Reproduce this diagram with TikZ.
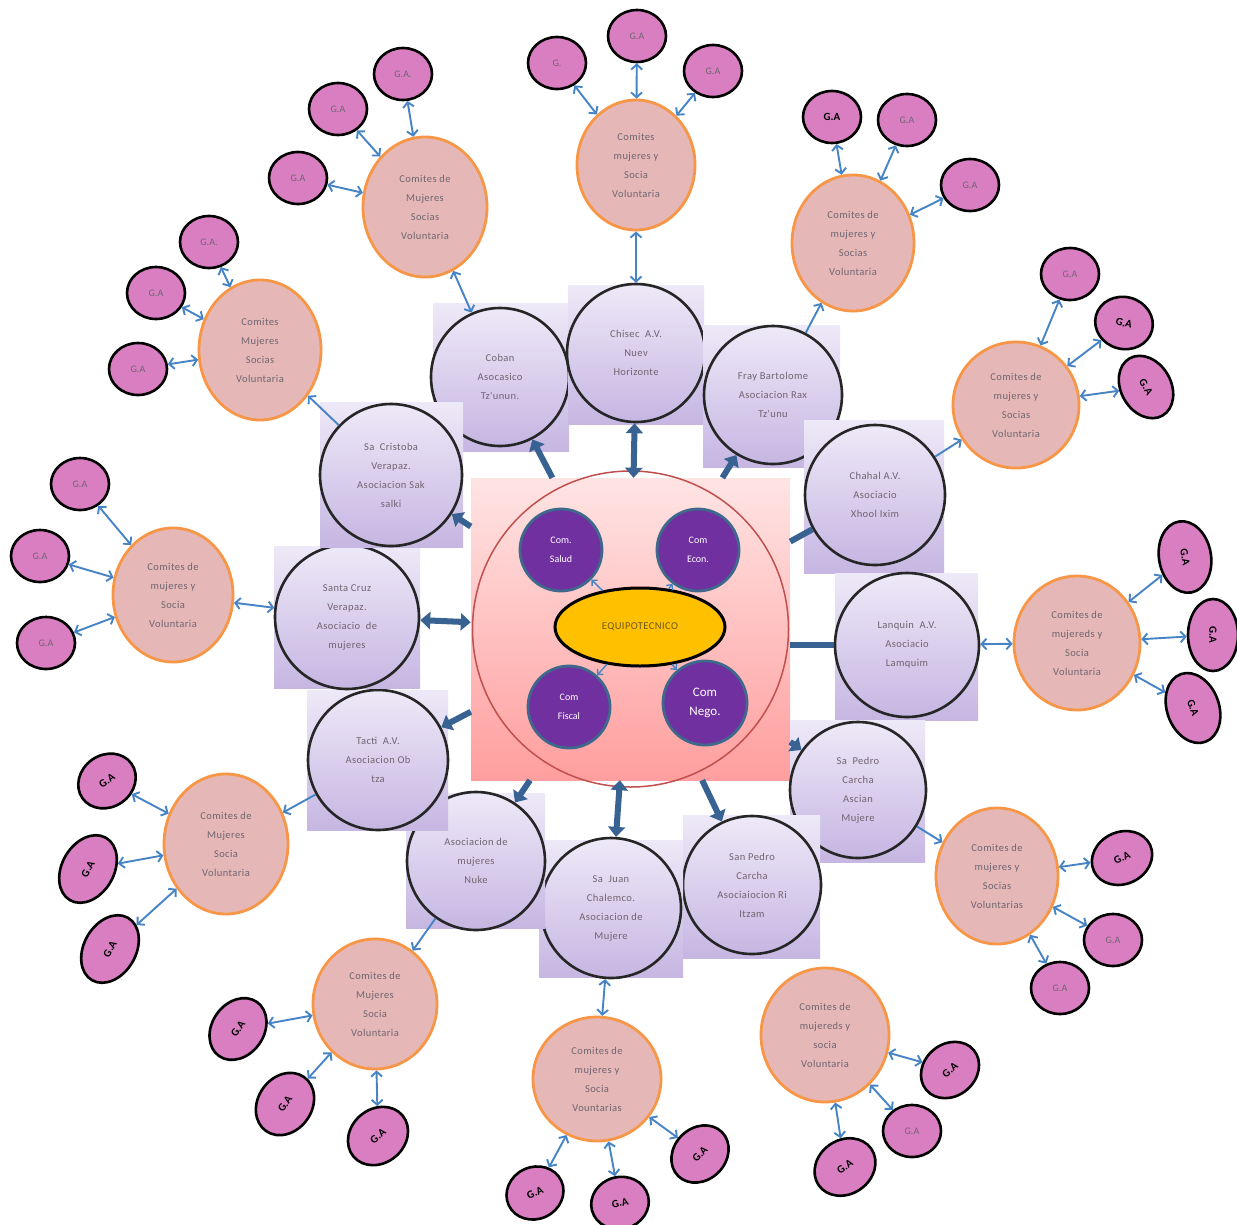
\documentclass[tikz,border=0pt]{standalone}
\usepackage{fontspec}
\setmainfont{Carlito}
\newfontfamily\lsfont[LetterSpace=4]{Carlito}
\usetikzlibrary{shapes.geometric,arrows.meta}
\definecolor{lavtop}{RGB}{238,233,248}
\definecolor{lavbot}{RGB}{198,182,226}
\definecolor{comfill}{RGB}{229,184,183}
\definecolor{comdraw}{RGB}{247,150,70}
\definecolor{gafill}{RGB}{218,126,194}
\definecolor{tblue}{RGB}{70,132,198}
\definecolor{tkblue}{RGB}{56,98,146}
\definecolor{purp}{RGB}{112,48,160}
\definecolor{purpdraw}{RGB}{62,104,140}
\definecolor{eqyel}{RGB}{255,192,0}
\definecolor{pinktop}{RGB}{255,228,228}
\definecolor{pinkbot}{RGB}{255,158,158}
\definecolor{redline}{RGB}{192,80,77}
\definecolor{txtg}{RGB}{112,100,112}
\begin{document}
\begin{tikzpicture}[x=1pt,y=-1pt,
 assoc/.style={circle,draw=black!85,line width=2.6pt,minimum size=#1,inner sep=0pt,align=center,text=txtg,top color=lavtop,bottom color=lavbot,font=\lsfont\fontsize{10.5}{19}\selectfont},
 lavsq/.style={top color=lavtop,bottom color=lavbot,draw=none},
 comm/.style={ellipse,draw=comdraw,fill=comfill,line width=2.8pt,inner sep=0pt,align=center,text=txtg,font=\lsfont\fontsize{10.5}{19}\selectfont},
 ga/.style={ellipse,draw=black,fill=gafill,line width=2.6pt,inner sep=0pt,minimum width=58pt,minimum height=52pt,text=txtg,font=\fontsize{10}{11}\selectfont},
 gab/.style={ga,font=\bfseries\fontsize{11}{12}\selectfont,text=black},
 tarr/.style={draw=tblue,line width=1.9pt,{Straight Barb[length=5pt,width=11pt]}-{Straight Barb[length=5pt,width=11pt]}},
 tone/.style={draw=tblue,line width=1.9pt,-{Straight Barb[length=5pt,width=11pt]}},
 barr/.style={draw=tkblue,line width=6pt,-{Triangle[length=10pt,width=17pt]}},
 bboth/.style={draw=tkblue,line width=6pt,{Triangle[length=10pt,width=17pt]}-{Triangle[length=10pt,width=17pt]}},
 bline/.style={draw=tkblue,line width=6pt},
 comc/.style={circle,draw=purpdraw,fill=purp,line width=2.8pt,minimum size=#1,inner sep=0pt,align=center,text=white,font=\fontsize{10}{19}\selectfont},
 smallarr/.style={draw=tblue,line width=1.4pt,-{Straight Barb[length=4pt,width=8pt]}}
]
\fill[white] (0,0) rectangle (1237,1224);
\useasboundingbox (0,0) rectangle (1237,1224);

% ---------- committees ----------
\node[comm,minimum width=124pt,minimum height=140pt] (cA) at (425,207) {Comites de\\Mujeres\\Socias\\Voluntaria};
\node[comm,minimum width=122pt,minimum height=140pt] (cB) at (260,350) {Comites\\Mujeres\\Socias\\Voluntaria};
\node[comm,minimum width=118pt,minimum height=130pt] (cC) at (636,165) {Comites\\mujeres y\\Socia\\Voluntaria};
\node[comm,minimum width=122pt,minimum height=136pt] (cD) at (853,243) {Comites de\\mujeres y\\Socias\\Voluntaria};
\node[comm,minimum width=126pt,minimum height=126pt] (cE) at (1016,405) {Comites de\\mujeres y\\Socias\\Voluntaria};
\node[comm,minimum width=126pt,minimum height=134pt] (cF) at (1077,643) {Comites de\\mujereds y\\Socia\\Voluntaria};
\node[comm,minimum width=122pt,minimum height=136pt] (cG) at (997,876) {Comites de\\mujeres y\\Socias\\Voluntarias};
\node[comm,minimum width=128pt,minimum height=134pt] (cH) at (825,1035) {Comites de\\mujereds y\\socia\\Voluntaria};
\node[comm,minimum width=128pt,minimum height=124pt] (cI) at (597,1079) {Comites de\\mujeres y\\Socia\\Vountarias};
\node[comm,minimum width=124pt,minimum height=130pt] (cJ) at (375,1004) {Comites de\\Mujeres\\Socia\\Voluntaria};
\node[comm,minimum width=124pt,minimum height=140pt] (cK) at (226,844) {Comites de\\Mujeres\\Socia\\Voluntaria};
\node[comm,minimum width=120pt,minimum height=134pt] (cL) at (173,595) {Comites de\\mujeres y\\Socia\\Voluntaria};

% ---------- G.A nodes ----------
\node[ga] (gaA1) at (403,74) {G.A.};
\node[ga] (gaA2) at (338,109) {G.A};
\node[ga] (gaA3) at (298,178) {G.A};
\node[ga] (gaB1) at (209,242) {G.A.};
\node[ga] (gaB2) at (156,293) {G.A};
\node[ga] (gaB3) at (138,369) {G.A};
\node[ga] (gaC1) at (557,63) {G.};
\node[ga] (gaC2) at (637,36) {G.A};
\node[ga] (gaC3) at (713,71) {G.A};
\node[gab] (gaD1) at (832,117) {G.A};
\node[ga] (gaD2) at (907,120) {G.A};
\node[ga] (gaD3) at (970,185) {G.A};
\node[ga] (gaE1) at (1070,274) {G.A};
\node[gab,rotate=-15] (gaE2) at (1124,323) {G.A};
\node[gab,rotate=-60,minimum width=66pt,minimum height=50pt] (gaE3) at (1146,387) {G.A};
\node[gab,rotate=-80,minimum width=72pt,minimum height=52pt] (gaF1) at (1185,557) {G.A};
\node[gab,rotate=-90,minimum width=72pt,minimum height=50pt] (gaF2) at (1213,635) {G.A};
\node[gab,rotate=-70,minimum width=72pt,minimum height=52pt] (gaF3) at (1193,708) {G.A};
\node[gab,rotate=25,minimum width=62pt,minimum height=52pt] (gaG1) at (1122,858) {G.A};
\node[ga] (gaG2) at (1113,940) {G.A};
\node[ga] (gaG3) at (1060,988) {G.A};
\node[gab,rotate=40,minimum width=62pt,minimum height=52pt] (gaH1) at (950,1070) {G.A};
\node[ga] (gaH2) at (912,1131) {G.A};
\node[gab,rotate=35,minimum width=64pt,minimum height=54pt] (gaH3) at (845,1167) {G.A};
\node[gab,rotate=45,minimum width=62pt,minimum height=52pt] (gaI1) at (700,1154) {G.A};
\node[gab,rotate=15] (gaI2) at (620,1203) {G.A};
\node[gab,rotate=25] (gaI3) at (535,1193) {G.A};
\node[gab,rotate=55,minimum width=66pt,minimum height=52pt] (gaJ1) at (238,1029) {G.A};
\node[gab,rotate=55,minimum width=66pt,minimum height=54pt] (gaJ2) at (285,1104) {G.A};
\node[gab,rotate=40,minimum width=64pt,minimum height=54pt] (gaJ3) at (378,1136) {G.A};
\node[gab,rotate=35,minimum width=60pt,minimum height=52pt] (gaK1) at (107,781) {G.A};
\node[gab,rotate=60,minimum width=72pt,minimum height=52pt] (gaK2) at (88,869) {G.A};
\node[gab,rotate=60,minimum width=72pt,minimum height=52pt] (gaK3) at (110,949) {G.A};
\node[ga] (gaL1) at (80,484) {G.A};
\node[ga] (gaL2) at (40,556) {G.A};
\node[ga] (gaL3) at (46,643) {G.A};

\foreach \g/\c in {gaA1/cA,gaA2/cA,gaA3/cA,gaB1/cB,gaB2/cB,gaB3/cB,gaC1/cC,gaC2/cC,gaC3/cC,
  gaD1/cD,gaD2/cD,gaD3/cD,gaE1/cE,gaE2/cE,gaE3/cE,gaF1/cF,gaF2/cF,gaF3/cF,
  gaG1/cG,gaG2/cG,gaG3/cG,gaH1/cH,gaH2/cH,gaH3/cH,gaI1/cI,gaI2/cI,gaI3/cI,
  gaJ1/cJ,gaJ2/cJ,gaJ3/cJ,gaK1/cK,gaK2/cK,gaK3/cK,gaL1/cL,gaL2/cL,gaL3/cL}
  \draw[tarr] (\g) -- (\c);

% ---------- centre ----------
\node[rectangle,top color=pinktop,bottom color=pinkbot,minimum width=319pt,minimum height=302pt,inner sep=0pt] (eq) at (630.5,629) {};
\node[circle,draw=redline,line width=1.5pt,minimum size=316pt,inner sep=0pt] (eqcirc) at (630.5,629) {};

% ---------- associations ----------
\path[lavsq] (433,303) rectangle (569,451);
\node[assoc=138pt] (coban) at (500,377) {Coban\\Asocasico\\Tz'unun.};
\path[lavsq] (568,285) rectangle (704,424);
\node[assoc=138pt] (chisec) at (636,353) {Chisec\ \ A.V.\\Nuev\\Horizonte};
\path[lavsq] (703,325) rectangle (840,467);
\node[assoc=138pt] (fray) at (773,395) {Fray Bartolome\\Asociacion Rax\\Tz'unu};
\path[lavsq] (804,420) rectangle (944,573);
\node[assoc=140pt] (chahal) at (875,495) {Chahal A.V.\\Asociacio\\Xhool Ixim};
\path[lavsq] (835,573) rectangle (978,720);
\node[assoc=144pt] (lanquin) at (907,645) {Lanquin\ \ A.V.\\Asociacio\\Lamquim};
\path[lavsq] (790,720) rectangle (925,862);
\node[assoc=136pt] (sapedro) at (858,790) {Sa\ \ Pedro\\Carcha\\Ascian\\Mujere};
\path[lavsq] (683,815) rectangle (820,958);
\node[assoc=138pt] (sanpedro) at (752,885) {San Pedro\\Carcha\\Asociaiocion Ri\\Itzam};
\path[lavsq] (539,840) rectangle (683,977);
\node[assoc=140pt] (sajuan) at (611,908) {Sa\ \ Juan\\Chalemco.\\Asociacion de\\Mujere};
\path[lavsq] (406,793) rectangle (545,928);
\node[assoc=138pt] (nuke) at (476,861) {Asociacion de\\mujeres\\Nuke};
\path[lavsq] (307,690) rectangle (448,830);
\node[assoc=140pt] (tacti) at (378,760) {Tacti\ \ A.V.\\Asociacion Ob\\tza};
\path[lavsq] (274,546) rectangle (420,688);
\node[assoc=144pt] (santacruz) at (347,617) {Santa Cruz\\Verapaz.\\Asociacio\ \ de\\mujeres};
\path[lavsq] (320,402) rectangle (463,547);
\node[assoc=142pt] (cristoba) at (391,475) {Sa\ \ Cristoba\\Verapaz.\\Asociacion Sak\\salki};

% ---------- thick connectors ----------
\draw[barr] (eq) -- (coban);
\draw[bboth] (eq) -- (chisec);
\draw[barr] (eq) -- (fray);
\draw[bline] (eq) -- (chahal);
\draw[bline] (eq.east |- lanquin.west) -- (lanquin.west);
\draw[barr] (eq) -- (sapedro);
\draw[barr] (eq) -- (sanpedro);
\draw[bboth] (eq) -- (sajuan);
\draw[barr] (eq) -- (nuke);
\draw[barr] (eq) -- (tacti);
\draw[bboth] (eq) -- (santacruz);
\draw[barr] (eq) -- (cristoba);

% ---------- association to committee ----------
\draw[tarr] (coban) -- (cA);
\draw[tone] (cristoba) -- (cB);
\draw[tarr] (chisec) -- (cC);
\draw[tone] (fray) -- (cD);
\draw[tone] (chahal) -- (cE);
\draw[tarr] (lanquin) -- (cF);
\draw[tone] (sapedro) -- (cG);
\draw[tarr] (sajuan) -- (cI);
\draw[tone] (nuke) -- (cJ);
\draw[tone] (tacti) -- (cK);
\draw[tarr] (santacruz) -- (cL);

% ---------- inner committee ----------
\node[ellipse,draw=black,fill=eqyel,line width=3pt,minimum width=170pt,minimum height=78pt,inner sep=0pt,text={rgb,255:red,110;green,90;blue,30},font=\lsfont\fontsize{10.5}{12}\selectfont] (equipo) at (640,627) {EQUIPOTECNICO};
\node[comc=82pt] (salud) at (561,550) {Com.\\Salud};
\node[comc=82pt] (econ) at (698,550) {Com\\Econ.};
\node[comc=82pt] (fiscal) at (569,707) {Com\\Fiscal};
\node[comc=84pt,font=\fontsize{13}{19}\selectfont] (nego) at (705,703) {Com\\Nego.};
\draw[smallarr] (equipo) -- (salud);
\draw[smallarr] (equipo) -- (econ);
\draw[smallarr] (equipo) -- (fiscal);
\draw[smallarr] (equipo) -- (nego);
\end{tikzpicture}
\end{document}
